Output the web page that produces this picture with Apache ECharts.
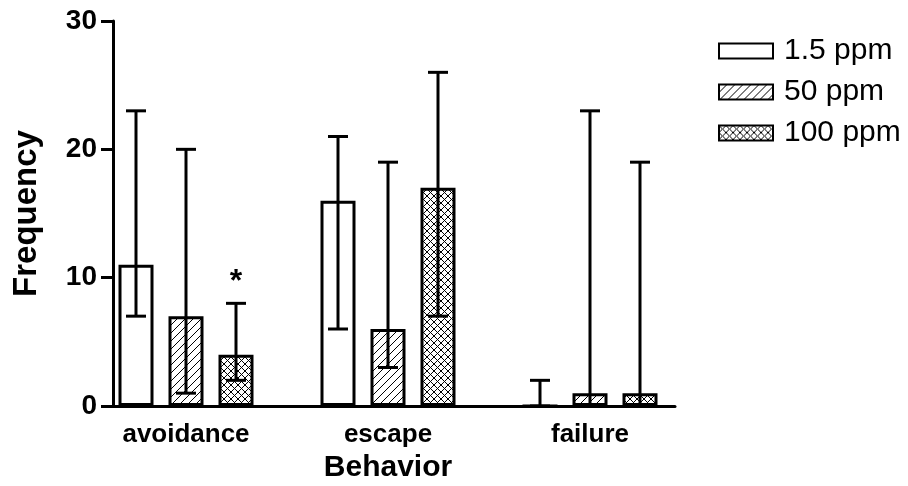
<!DOCTYPE html>
<html>
<head>
<meta charset="utf-8">
<script src="https://cdn.jsdelivr.net/npm/echarts@6/dist/echarts.min.js"></script>
<style>html,body{margin:0;padding:0;background:#fff;}</style>
</head>
<body>
<div id="main" style="width:908px;height:486px;"></div>
<script>
// data
var behaviors = ['avoidance', 'escape', 'failure'];
var doses = ['1.5 ppm', '50 ppm', '100 ppm'];
var freq15 = [11, 16, 0];
var freq50 = [7, 6, 1];
var freq100 = [4, 17, 1];
var low15 = [7, 6, 0], high15 = [23, 21, 2];
var low50 = [1, 3, 0], high50 = [20, 19, 23];
var low100 = [2, 7, 0], high100 = [8, 26, 19];
var sig100 = ['*', '', ''];

var FONT = 'Liberation Sans, Arial, Helvetica, sans-serif';
var BAR_W = 35, BAR_GAP = 15;

// fill patterns
function pattern(size, cross) {
    var c = document.createElement('canvas');
    c.width = c.height = size;
    var g = c.getContext('2d');
    g.fillStyle = '#fff';
    g.fillRect(0, 0, size, size);
    g.strokeStyle = '#000';
    g.lineWidth = 1;
    g.beginPath();
    g.moveTo(-1, size + 1); g.lineTo(size + 1, -1);
    g.moveTo(-1, 1); g.lineTo(1, -1);
    g.moveTo(size - 1, size + 1); g.lineTo(size + 1, size - 1);
    if (cross) {
        g.moveTo(-1, -1); g.lineTo(size + 1, size + 1);
        g.moveTo(size - 1, -1); g.lineTo(size + 1, 1);
        g.moveTo(-1, size - 1); g.lineTo(1, size + 1);
    }
    g.stroke();
    return c;
}
var fills = ['#fff',
    {image: pattern(8, false), repeat: 'repeat'},
    {image: pattern(7, true), repeat: 'repeat'}];

var values = [freq15, freq50, freq100];
var lows = [low15, low50, low100];
var highs = [high15, high50, high100];

var series = [];
doses.forEach(function (d, k) {
    series.push({
        name: d,
        type: 'bar',
        xAxisIndex: 0,
        yAxisIndex: 0,
        barWidth: BAR_W,
        barGap: (BAR_GAP / BAR_W * 100) + '%',
        itemStyle: {color: fills[k], borderColor: '#000', borderWidth: 3},
        data: values[k]
    });
});

var errData = [];
doses.forEach(function (d, k) {
    behaviors.forEach(function (b, i) {
        errData.push([i, k, lows[k][i], highs[k][i], k === 2 ? sig100[i] : '']);
    });
});

series.push({
    type: 'custom',
    xAxisIndex: 0,
    yAxisIndex: 0,
    z: 5,
    data: errData,
    renderItem: function (params, api) {
        var off = (api.value(1) - 1) * (BAR_W + BAR_GAP);
        var lo = api.coord([api.value(0), api.value(2)]);
        var hi = api.coord([api.value(0), api.value(3)]);
        var x = lo[0] + off;
        var st = {stroke: '#000', lineWidth: 3};
        var kids = [
            {type: 'line', shape: {x1: x, y1: lo[1], x2: x, y2: hi[1]}, style: st},
            {type: 'line', shape: {x1: x - 10, y1: hi[1], x2: x + 10, y2: hi[1]}, style: st},
            {type: 'line', shape: {x1: x - 10, y1: lo[1], x2: x + 10, y2: lo[1]}, style: st}
        ];
        var s = errData[params.dataIndex][4];
        if (s) {
            kids.push({type: 'text', x: x, y: hi[1] - 21, style: {
                text: s, fill: '#000', font: 'bold 32px ' + FONT,
                align: 'center', verticalAlign: 'middle'}});
        }
        return {type: 'group', children: kids};
    }
});

var chart = echarts.init(document.getElementById('main'));
chart.setOption({
    animation: false,
    backgroundColor: '#fff',
    legend: {
        orient: 'vertical',
        left: 718,
        top: 36,
        padding: 0,
        itemWidth: 54,
        itemHeight: 15,
        itemGap: 11,
        icon: 'rect',
        data: doses,
        textStyle: {fontSize: 30, color: '#000', fontFamily: FONT, padding: [0, 0, 0, 6]}
    },
    grid: [
        {left: 85, right: 217, top: 21, bottom: 80, outerBoundsMode: 'none'},
        {left: 113, right: 233, top: 21, bottom: 80, outerBoundsMode: 'none'}
    ],
    xAxis: [
        {
            type: 'category', gridIndex: 0, data: behaviors,
            axisLine: {show: false}, axisTick: {show: false},
            axisLabel: {fontSize: 26, fontWeight: 'bold', color: '#000', fontFamily: FONT, margin: 16},
            name: 'Behavior', nameLocation: 'middle', nameGap: 47,
            nameTextStyle: {fontSize: 30, fontWeight: 'bold', color: '#000', fontFamily: FONT}
        },
        {
            type: 'value', gridIndex: 1, min: 0, max: 1,
            axisLine: {show: true, lineStyle: {color: '#000', width: 3}},
            axisTick: {show: false}, axisLabel: {show: false}, splitLine: {show: false}
        }
    ],
    yAxis: [
        {type: 'value', gridIndex: 0, min: 0, max: 30, show: false},
        {
            type: 'value', gridIndex: 1, min: 0, max: 30, interval: 10,
            axisLine: {show: true, lineStyle: {color: '#000', width: 3}},
            axisTick: {show: true, length: 12, lineStyle: {color: '#000', width: 3}},
            axisLabel: {fontSize: 28, fontWeight: 'bold', color: '#000', fontFamily: FONT, margin: 16},
            splitLine: {show: false},
            name: 'Frequency', nameLocation: 'middle', nameGap: 70,
            nameTextStyle: {fontSize: 33, fontWeight: 'bold', color: '#000', fontFamily: FONT}
        }
    ],
    series: series
});
</script>
</body>
</html>
